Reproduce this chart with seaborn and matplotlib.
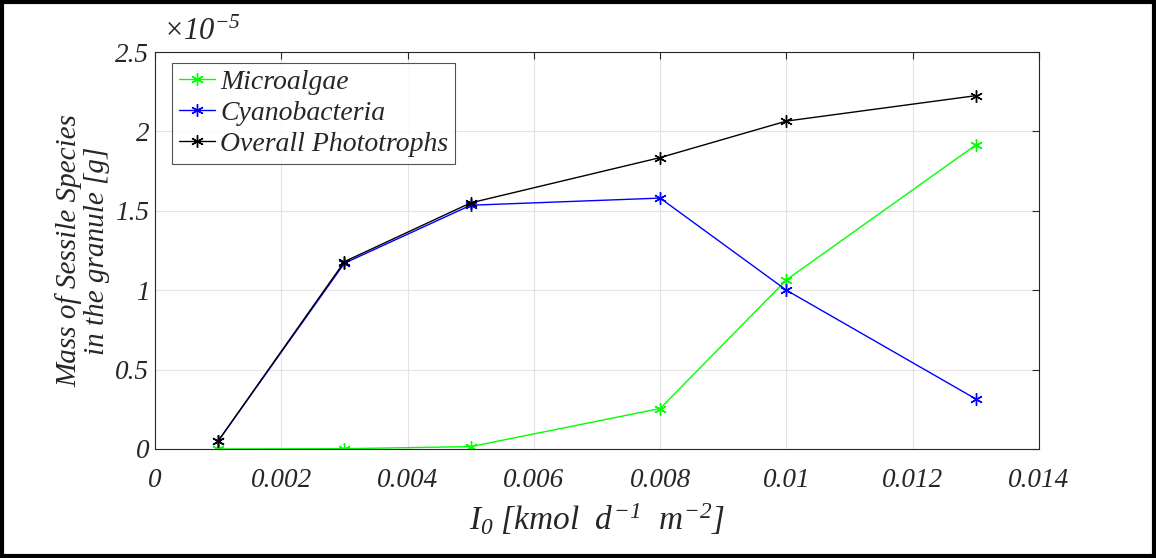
import matplotlib
matplotlib.use('Agg')
import matplotlib.pyplot as plt
import seaborn as sns
import pandas as pd
from matplotlib.patches import Rectangle

# intensita luminosa [kmol d^-1 m^-2]
light = [0.001, 0.003, 0.005, 0.008, 0.01, 0.013]
# masse in unita di 1e-5 g
microalgae = [0.0, 0.002, 0.015, 0.255, 1.065, 1.915]
cyanobacteria = [0.05, 1.17, 1.535, 1.58, 1.0, 0.315]
overall = [0.05, 1.18, 1.55, 1.835, 2.065, 2.225]

series_names = ['Microalgae', 'Cyanobacteria', 'Overall Phototrophs']
series_colors = ['#00ff00', '#0000ff', '#000000']

x_ticks = [0, 0.002, 0.004, 0.006, 0.008, 0.01, 0.012, 0.014]
x_ticklabels = ['0', '0.002', '0.004', '0.006', '0.008', '0.01', '0.012', '0.014']
y_ticks = [0, 0.5, 1, 1.5, 2, 2.5]
y_ticklabels = ['0', '0.5', '1', '1.5', '2', '2.5']

df = pd.DataFrame({
    'I0': light * 3,
    'mass': microalgae + cyanobacteria + overall,
    'species': [n for n in series_names for _ in light],
})

sns.set_style('white')
plt.rcParams['font.family'] = ['Liberation Serif', 'DejaVu Serif']
plt.rcParams['font.style'] = 'italic'
plt.rcParams['mathtext.fontset'] = 'custom'
plt.rcParams['mathtext.rm'] = 'Liberation Serif:italic'
plt.rcParams['mathtext.it'] = 'Liberation Serif:italic'

fig = plt.figure(figsize=(11.56, 5.58), dpi=100)
ax = fig.add_axes([155 / 1156, 1 - 449 / 558, (1039 - 155) / 1156, (449 - 52) / 558])

asterisk = (6, 2, 0)
sns.lineplot(data=df, x='I0', y='mass', hue='species', hue_order=series_names,
             palette=series_colors, marker=asterisk, markersize=9,
             markeredgewidth=1, linewidth=1, ax=ax)
# asterischi con il colore della linea
for ln in ax.lines:
    ln.set_markeredgecolor(ln.get_color())

ax.set_xlim(0, 0.014)
ax.set_ylim(0, 2.5)
ax.set_xticks(x_ticks)
ax.set_xticklabels(x_ticklabels)
ax.set_yticks(y_ticks)
ax.set_yticklabels(y_ticklabels)
ax.tick_params(direction='in', length=5, width=0.8, color='#262626',
               labelsize=19.5, top=True, right=True)
ax.tick_params(axis='x', pad=14)
ax.tick_params(axis='y', pad=4)
for lab in ax.get_xticklabels() + ax.get_yticklabels():
    lab.set_style('italic')
ax.grid(True, color='#e3e3e3', linewidth=0.8)
ax.set_axisbelow(True)
for sp in ax.spines.values():
    sp.set_color('#262626')
    sp.set_linewidth(0.8)

ax.set_xlabel(r'$I_0\ [kmol\ \ d^{-1}\ \ m^{-2}]$', fontsize=24, labelpad=6)
ax.set_ylabel('Mass of Sessile Species\nin the granule [g]', fontsize=21,
              style='italic', labelpad=4, linespacing=1.1)
ax.text(0.009, 1.012, r'$\times10^{-5}$', transform=ax.transAxes,
        fontsize=22, ha='left', va='bottom')

leg = ax.legend(loc='upper left', bbox_to_anchor=(0.019, 0.973), fontsize=20,
                frameon=True, fancybox=False, edgecolor='#262626',
                handlelength=1.3, handletextpad=0.2, borderpad=0.25,
                labelspacing=0.2, borderaxespad=0)
leg.get_frame().set_linewidth(0.8)
for t in leg.get_texts():
    t.set_style('italic')
for h in leg.get_lines():
    h.set_markeredgecolor(h.get_color())

fig.patches.append(Rectangle((0.0015, 0.003), 0.997, 0.994, transform=fig.transFigure,
                             fill=False, edgecolor='black', linewidth=3))

fig.savefig('out.png', dpi=100)
